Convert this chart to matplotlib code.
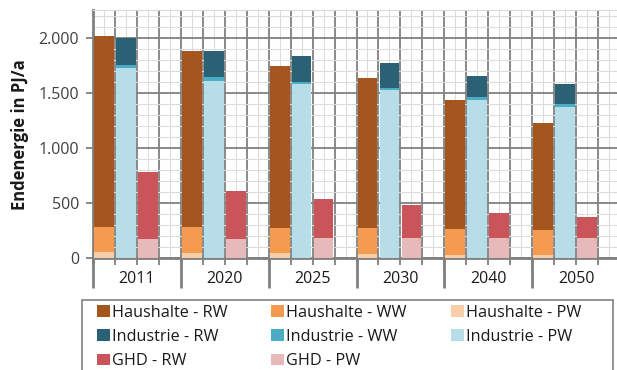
import numpy as np
import matplotlib.pyplot as plt
from matplotlib.patches import Patch, Rectangle
from matplotlib.ticker import MultipleLocator, FuncFormatter

plt.rcParams['font.family'] = ['Open Sans', 'DejaVu Sans']

years = ['2011', '2020', '2025', '2030', '2040', '2050']

# Endenergie in PJ/a, je Sektor gestapelt (PW unten, WW Mitte, RW oben)
haus_pw = [55, 50, 45, 36, 30, 30]
haus_ww = [231, 231, 230, 239, 238, 227]
haus_rw = [1724, 1599, 1471, 1357, 1167, 972]

ind_pw = [1728, 1610, 1577, 1526, 1432, 1374]
ind_ww = [24, 31, 24, 21, 28, 22]
ind_rw = [248, 239, 236, 221, 193, 182]

ghd_pw = [175, 175, 181, 187, 187, 187]
ghd_rw = [605, 435, 357, 296, 221, 185]

colors = {
    'Haushalte - RW': '#a5561e',
    'Haushalte - WW': '#f59b50',
    'Haushalte - PW': '#f9cfaa',
    'Industrie - RW': '#2b6175',
    'Industrie - WW': '#4bacc6',
    'Industrie - PW': '#b7dee8',
    'GHD - RW': '#c9555a',
    'GHD - PW': '#e8b9ba',
}

dark = '#808080'
light = '#dcdcdc'
text_col = '#404040'

fig = plt.figure(figsize=(6.17, 3.70), dpi=100)
W, H = 617, 370
ax = fig.add_axes([93 / W, 111.7 / H, 527 / W, 248.3 / H])

n = len(years)
grp = np.arange(n) * 4
bw = 0.9


def stack(ax, x, parts, names):
    bottom = np.zeros(n)
    for vals, name in zip(parts, names):
        vals = np.array(vals, dtype=float)
        ax.bar(x, vals, bw, bottom=bottom, color=colors[name], linewidth=0, zorder=3)
        bottom += vals


stack(ax, grp + 0.5, [haus_pw, haus_ww, haus_rw],
      ['Haushalte - PW', 'Haushalte - WW', 'Haushalte - RW'])
stack(ax, grp + 1.5, [ind_pw, ind_ww, ind_rw],
      ['Industrie - PW', 'Industrie - WW', 'Industrie - RW'])
stack(ax, grp + 2.5, [ghd_pw, ghd_rw], ['GHD - PW', 'GHD - RW'])

ax.set_xlim(0, 4 * n)
ax.set_ylim(0, 2250)

# Gitter: dunkle Hauptlinien, helle Zwischenlinien
ax.xaxis.set_major_locator(MultipleLocator(1))
ax.xaxis.set_minor_locator(MultipleLocator(0.5))
ax.yaxis.set_major_locator(MultipleLocator(500))
ax.yaxis.set_minor_locator(MultipleLocator(100))
ax.grid(which='major', color=dark, linewidth=1.3, zorder=1)
ax.grid(which='minor', color=light, linewidth=0.8, zorder=0)
ax.set_axisbelow(True)

ax.yaxis.set_major_formatter(FuncFormatter(lambda v, p: f'{v:,.0f}'.replace(',', '.')))
ax.set_xticklabels([])
ax.tick_params(axis='both', which='major', length=5, width=1.3, color=dark,
               labelsize=11.5, labelcolor=text_col)
ax.tick_params(axis='y', pad=5)
ax.tick_params(which='minor', length=0)

for side in ['left', 'bottom']:
    ax.spines[side].set_color(dark)
    ax.spines[side].set_linewidth(2)
ax.spines['top'].set_color(light)
ax.spines['right'].set_visible(False)

ax.set_ylabel('Endenergie in PJ/a', fontsize=12, fontweight='bold', color='#1a1a1a', labelpad=7)

# Trennstriche zwischen den Jahren und Jahresbeschriftung
tr = ax.get_xaxis_transform()
for g in range(n + 1):
    ax.plot([4 * g, 4 * g], [0, -30 / 248.3], transform=tr, color=dark,
            linewidth=2, clip_on=False, solid_capstyle='butt')
for g, year in enumerate(years):
    ax.text(4 * g + 2, -21 / 248.3, year, transform=tr, ha='center', va='center',
            fontsize=11.5, color='#1a1a1a')

order = ['Haushalte - RW', 'Industrie - RW', 'GHD - RW',
         'Haushalte - WW', 'Industrie - WW', 'GHD - PW',
         'Haushalte - PW', 'Industrie - PW']
handles = [Patch(facecolor=colors[k], edgecolor='none') for k in order]
leg = fig.legend(handles, order, ncol=3, loc='upper left',
                 bbox_to_anchor=(92 / W, 1 - 300 / H), frameon=False,
                 fontsize=11.7, handlelength=0.8, handleheight=0.75,
                 handletextpad=0.12, columnspacing=2.7, labelspacing=0.5,
                 borderpad=0.3, borderaxespad=0)
for t in leg.get_texts():
    t.set_color('#1a1a1a')

# Rahmen der Legende, unten offen ueber den Bildrand hinaus
fig.patches.append(Rectangle((82 / W, -0.05), (613 - 82) / W, 0.05 + 70 / H,
                             transform=fig.transFigure, fill=False,
                             edgecolor=dark, linewidth=1.2))

fig.savefig('out.png', dpi=100)
